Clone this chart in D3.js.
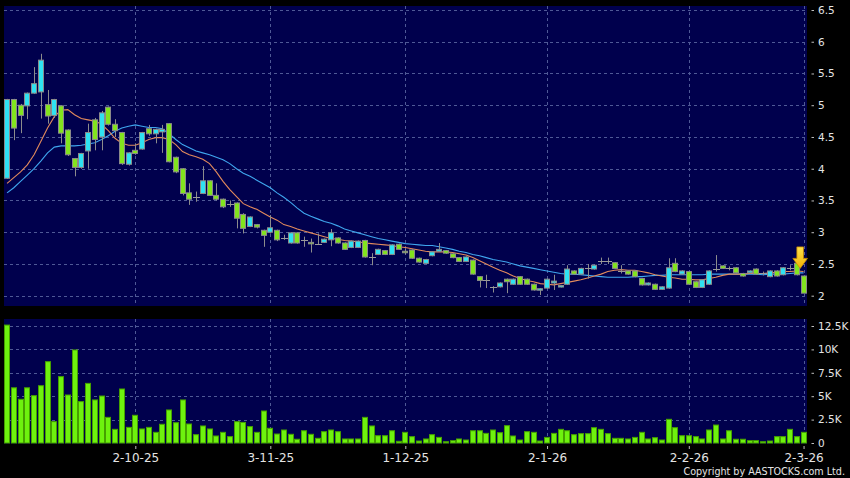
<!DOCTYPE html>
<html><head><meta charset="utf-8">
<script src="https://cdn.jsdelivr.net/npm/d3@7"></script>
<style>html,body{margin:0;padding:0;background:#000;}svg{display:block;}</style>
</head><body>
<svg id="chart" width="850" height="478"></svg>
<script>
// ---------- DATA ----------
const open = [3.85,5.09,5.00,4.99,5.19,5.21,5.01,4.84,4.99,4.61,
4.16,4.02,4.28,4.77,4.50,4.97,4.70,4.57,4.07,4.29,
4.31,4.63,4.55,4.58,4.71,4.18,4.00,3.62,3.56,3.61,
3.81,3.58,3.52,3.44,3.46,3.28,3.09,3.12,3.03,3.00,
3.03,2.91,2.83,2.99,2.88,2.84,2.81,2.84,2.88,2.91,
2.83,2.76,2.76,2.87,2.61,2.65,2.71,2.65,2.81,2.70,
2.72,2.59,2.51,2.63,2.70,2.71,2.66,2.60,2.54,2.56,
2.30,2.25,2.14,2.14,2.26,2.18,2.30,2.26,2.18,2.09,
2.12,2.20,2.14,2.18,2.39,2.34,2.43,2.42,2.54,2.54,
2.52,2.39,2.39,2.39,2.27,2.17,2.18,2.10,2.12,2.51,
2.34,2.38,2.22,2.13,2.18,2.42,2.47,2.43,2.44,2.35,
2.36,2.42,2.35,2.30,2.39,2.33,2.44,2.51,2.31];
const high = [5.10,5.10,5.02,5.20,5.60,5.81,5.24,5.10,5.00,4.62,
4.17,4.25,4.71,4.80,4.91,4.98,4.78,4.58,4.26,4.40,
4.58,4.69,4.63,4.69,4.72,4.19,4.01,3.77,3.64,4.04,
3.82,3.77,3.53,3.50,3.47,3.30,3.25,3.13,3.04,3.27,
3.04,2.96,3.00,3.00,2.93,2.90,2.98,2.90,3.05,2.92,
2.84,2.87,2.87,2.88,2.67,2.74,2.72,2.81,2.82,2.74,
2.73,2.60,2.58,2.70,2.83,2.72,2.67,2.61,2.62,2.57,
2.31,2.33,2.15,2.21,2.27,2.27,2.31,2.27,2.19,2.12,
2.27,2.33,2.17,2.48,2.40,2.44,2.50,2.49,2.60,2.60,
2.53,2.48,2.40,2.40,2.28,2.21,2.19,2.15,2.59,2.59,
2.40,2.39,2.23,2.26,2.40,2.64,2.48,2.46,2.45,2.36,
2.40,2.43,2.38,2.40,2.40,2.45,2.48,2.52,2.32];
const low = [3.84,4.45,4.56,4.78,5.18,4.79,4.71,4.80,4.40,4.20,
3.88,4.00,4.00,4.29,4.29,4.68,4.50,4.06,4.05,4.22,
4.30,4.52,4.40,4.25,4.10,3.93,3.58,3.43,3.48,3.60,
3.57,3.50,3.38,3.40,3.06,2.98,3.08,3.06,2.77,2.98,
2.86,2.88,2.82,2.82,2.77,2.68,2.80,2.83,2.78,2.82,
2.72,2.75,2.75,2.60,2.48,2.64,2.64,2.64,2.72,2.65,
2.58,2.52,2.50,2.62,2.69,2.66,2.59,2.53,2.53,2.33,
2.13,2.12,2.05,2.13,2.04,2.17,2.17,2.17,2.08,2.01,
2.11,2.09,2.13,2.17,2.33,2.33,2.27,2.41,2.50,2.50,
2.42,2.35,2.33,2.29,2.16,2.16,2.09,2.09,2.11,2.37,
2.33,2.17,2.12,2.12,2.17,2.38,2.42,2.40,2.35,2.30,
2.35,2.33,2.32,2.29,2.30,2.32,2.40,2.32,2.04];
const close = [5.09,4.64,4.84,5.19,5.34,5.71,4.83,5.09,4.56,4.22,
4.02,4.24,4.57,4.46,4.88,4.70,4.60,4.08,4.25,4.24,
4.57,4.55,4.62,4.62,4.11,3.95,3.61,3.52,3.56,3.81,
3.58,3.52,3.40,3.44,3.22,3.06,3.24,3.08,2.95,3.07,
2.88,2.91,2.99,2.83,2.88,2.82,2.81,2.89,2.99,2.83,
2.73,2.86,2.86,2.61,2.61,2.73,2.65,2.80,2.73,2.68,
2.59,2.53,2.57,2.69,2.73,2.67,2.60,2.54,2.61,2.34,
2.24,2.25,2.14,2.20,2.22,2.26,2.18,2.18,2.09,2.11,
2.26,2.23,2.16,2.42,2.34,2.43,2.43,2.48,2.54,2.54,
2.43,2.39,2.34,2.30,2.17,2.20,2.10,2.14,2.44,2.38,
2.39,2.18,2.13,2.25,2.39,2.42,2.43,2.43,2.36,2.31,
2.39,2.34,2.35,2.39,2.31,2.44,2.44,2.33,2.04];
// short (orange) and long (blue) moving averages as drawn
const maShort = [3.77,3.86,3.95,4.06,4.22,4.43,4.64,4.82,4.92,4.93,
4.85,4.79,4.77,4.75,4.70,4.60,4.48,4.40,4.37,4.37,
4.41,4.46,4.49,4.49,4.46,4.38,4.27,4.22,4.19,4.15,
4.08,3.95,3.80,3.67,3.56,3.45,3.40,3.36,3.30,3.24,
3.19,3.12,3.09,3.05,3.02,2.99,2.96,2.93,2.90,2.89,
2.87,2.86,2.85,2.83,2.82,2.81,2.80,2.79,2.77,2.76,
2.74,2.72,2.70,2.69,2.69,2.69,2.68,2.66,2.64,2.60,
2.55,2.50,2.45,2.40,2.36,2.31,2.27,2.24,2.22,2.19,
2.18,2.17,2.19,2.21,2.23,2.25,2.28,2.31,2.34,2.38,
2.40,2.41,2.40,2.40,2.38,2.36,2.33,2.31,2.29,2.28,
2.26,2.26,2.25,2.25,2.27,2.29,2.32,2.34,2.34,2.34,
2.35,2.35,2.35,2.36,2.37,2.38,2.38,2.39,2.38];
const maLong = [3.62,3.70,3.80,3.90,4.00,4.12,4.25,4.34,4.36,4.36,
4.36,4.37,4.39,4.41,4.46,4.52,4.59,4.64,4.67,4.69,
4.67,4.65,4.65,4.63,4.55,4.46,4.38,4.33,4.28,4.25,
4.22,4.18,4.14,4.08,4.00,3.93,3.88,3.82,3.76,3.70,
3.62,3.55,3.47,3.38,3.30,3.25,3.21,3.17,3.14,3.10,
3.05,3.02,2.99,2.96,2.93,2.90,2.88,2.86,2.84,2.82,
2.81,2.80,2.79,2.79,2.77,2.75,2.73,2.70,2.68,2.65,
2.63,2.60,2.57,2.55,2.53,2.50,2.47,2.45,2.43,2.41,
2.39,2.37,2.35,2.34,2.34,2.33,2.32,2.31,2.30,2.29,
2.29,2.29,2.29,2.30,2.30,2.31,2.32,2.32,2.33,2.33,
2.33,2.33,2.33,2.33,2.34,2.34,2.34,2.34,2.34,2.34,
2.34,2.34,2.33,2.34,2.34,2.34,2.35,2.36,2.36];
// volume in thousands
const volume = [12.6,5.9,4.67,5.9,5.06,6.12,8.69,2.28,7.09,5.13,
9.94,4.42,6.37,4.6,5.02,2.74,1.46,5.77,1.67,2.96,
1.5,1.67,1.14,2.0,3.53,2.17,4.6,2.03,0.89,1.82,
1.5,0.75,1.14,0.68,2.28,2.2,1.75,1.14,3.42,1.57,
0.96,1.39,0.93,0.4,1.31,0.93,0.5,1.21,1.39,1.21,
0.43,0.43,0.43,2.74,1.82,0.78,0.78,1.31,0.18,1.14,
0.68,0.21,0.43,0.89,0.6,0.14,0.25,0.43,0.32,1.31,
1.31,1.03,1.39,1.1,1.85,0.75,0.32,1.21,1.14,0.21,
0.6,1.03,1.46,1.31,0.89,1.0,1.0,1.64,1.46,1.0,
0.5,0.5,0.43,0.6,1.14,0.43,0.57,0.32,2.53,1.64,
0.78,0.78,0.68,0.43,1.39,1.92,0.43,1.31,0.4,0.4,
0.25,0.25,0.14,0.21,0.68,0.68,1.46,0.68,1.14];
const dateTickIndex = [19, 39, 59, 80, 101, 118];
const dateTickLabels = ["2-10-25", "3-11-25", "1-12-25", "2-1-26", "2-2-26", "2-3-26"];
const priceTicks = [2, 2.5, 3, 3.5, 4, 4.5, 5, 5.5, 6, 6.5];
const volumeTicks = [0, 2.5, 5, 7.5, 10, 12.5];
const volumeTickLabels = ["0", "2.5K", "5K", "7.5K", "10K", "12.5K"];
const markerIndex = 117.5, markerValue = 2.43;
const copyright = "Copyright by AASTOCKS.com Ltd.";

// ---------- LAYOUT ----------
const FONT = "'DejaVu Sans', Verdana, sans-serif";
const NAVY = "#00004d";
const GRID = "#4f5996";
const plotL = 4, plotR = 807;
const pTop = 6, pBot = 306, vTop = 319, vBot = 443.5;
const N = open.length;
const idx = d3.range(N);

const x = d3.scalePoint().domain(idx).range([7.05, 803.55]);
const yP = d3.scaleLinear().domain([2, 6.5]).range([295.7, 10]);
const yV = d3.scaleLinear().domain([0, 12.5]).range([443, 326]);
const xf = i => x(0) + (x(1) - x(0)) * i; // fractional index position

const svg = d3.select("#chart");
svg.append("rect").attr("width", 850).attr("height", 478).attr("fill", "#000");
svg.append("rect").attr("x", plotL).attr("y", pTop).attr("width", plotR - plotL).attr("height", pBot - pTop).attr("fill", NAVY);
svg.append("rect").attr("x", plotL).attr("y", vTop).attr("width", plotR - plotL).attr("height", vBot - vTop).attr("fill", NAVY);

const defs = svg.append("defs");
defs.append("clipPath").attr("id", "clipP").append("rect").attr("x", plotL).attr("y", pTop).attr("width", plotR - plotL).attr("height", pBot - pTop);
const grad = defs.append("linearGradient").attr("id", "arrowGrad").attr("x1", 0).attr("y1", 0).attr("x2", 0).attr("y2", 1);
grad.append("stop").attr("offset", "0%").attr("stop-color", "#ffe24c");
grad.append("stop").attr("offset", "100%").attr("stop-color", "#f2b000");

const crisp = v => Math.round(v) + 0.5;

// grid lines
const grid = svg.append("g").attr("stroke", GRID).attr("stroke-width", 1).attr("stroke-dasharray", "3,3");
grid.selectAll(".hp").data(priceTicks).join("line")
  .attr("x1", plotL).attr("x2", plotR).attr("y1", d => crisp(yP(d))).attr("y2", d => crisp(yP(d)));
grid.selectAll(".hv").data(volumeTicks.filter(d => d > 0)).join("line").attr("class", "hv")
  .attr("x1", plotL).attr("x2", plotR).attr("y1", d => crisp(yV(d))).attr("y2", d => crisp(yV(d)));
grid.selectAll(".vp").data(dateTickIndex).join("line").attr("class", "vp")
  .attr("x1", d => crisp(x(d))).attr("x2", d => crisp(x(d))).attr("y1", pTop).attr("y2", pBot);
grid.selectAll(".vv").data(dateTickIndex).join("line").attr("class", "vv")
  .attr("x1", d => crisp(x(d))).attr("x2", d => crisp(x(d))).attr("y1", vTop).attr("y2", vBot);

// moving averages
const gP = svg.append("g").attr("clip-path", "url(#clipP)");
const line = arr => d3.line().x((d, i) => x(i)).y(d => yP(d))(arr);
gP.append("path").attr("d", line(maLong)).attr("fill", "none").attr("stroke", "#3fa6ee").attr("stroke-width", 1.1);
gP.append("path").attr("d", line(maShort)).attr("fill", "none").attr("stroke", "#e28a5c").attr("stroke-width", 1.1);

// candles
const bw = 5;
const cg = gP.append("g");
cg.selectAll(".wick").data(idx).join("line")
  .attr("x1", i => crisp(x(i))).attr("x2", i => crisp(x(i)))
  .attr("y1", i => yP(high[i])).attr("y2", i => yP(low[i]))
  .attr("stroke", "#8c8c8c").attr("stroke-width", 1);
const bodies = idx.filter(i => close[i] !== open[i]);
cg.selectAll(".body").data(bodies).join("rect")
  .attr("x", i => Math.round(x(i)) - 2.5)
  .attr("y", i => yP(Math.max(open[i], close[i])))
  .attr("width", bw)
  .attr("height", i => Math.max(1.5, Math.abs(yP(open[i]) - yP(close[i]))))
  .attr("fill", i => close[i] > open[i] ? "#2fe2f2" : "#82e41e")
  .attr("stroke", "#8a8a8a").attr("stroke-width", 1);
const dojis = idx.filter(i => close[i] === open[i]);
cg.selectAll(".doji").data(dojis).join("line")
  .attr("x1", i => Math.round(x(i)) - 3).attr("x2", i => Math.round(x(i)) + 4)
  .attr("y1", i => crisp(yP(close[i]))).attr("y2", i => crisp(yP(close[i])))
  .attr("stroke", "#9a9a9a").attr("stroke-width", 1);

// marker arrow
const ax = xf(markerIndex), ay = yP(markerValue);
const arrow = d3.path();
arrow.moveTo(ax - 3.3, ay - 21.5); arrow.lineTo(ax + 3.3, ay - 21.5); arrow.lineTo(ax + 3.3, ay - 10);
arrow.lineTo(ax + 7.3, ay - 10); arrow.lineTo(ax, ay); arrow.lineTo(ax - 7.3, ay - 10);
arrow.lineTo(ax - 3.3, ay - 10); arrow.closePath();
svg.append("path").attr("d", arrow.toString()).attr("fill", "url(#arrowGrad)").attr("stroke", "#c98a00").attr("stroke-width", 0.8);

// volume bars
svg.append("g").selectAll("rect").data(idx).join("rect")
  .attr("x", i => Math.round(x(i)) - 2.5)
  .attr("y", i => yV(volume[i]))
  .attr("width", bw)
  .attr("height", i => yV(0) - yV(volume[i]))
  .attr("fill", "#6ef20e").attr("stroke", "#46a000").attr("stroke-width", 1);

// axes
function styleAxis(g, size) {
  g.select(".domain").remove();
  g.selectAll(".tick line").attr("stroke", "#bdbdbd");
  g.selectAll(".tick text").attr("fill", "#e4e4e4").style("font-family", FONT).style("font-size", size + "px");
}
svg.append("g").attr("transform", "translate(811.5,0)")
  .call(d3.axisRight(yP).tickValues(priceTicks).tickSize(2.5).tickPadding(4).tickFormat(d => String(d)))
  .call(g => styleAxis(g, 10.5));
svg.append("g").attr("transform", "translate(811.5,0)")
  .call(d3.axisRight(yV).tickValues(volumeTicks).tickSize(2.5).tickPadding(4).tickFormat((d, i) => volumeTickLabels[i]))
  .call(g => styleAxis(g, 10.5));
svg.append("g").attr("transform", "translate(0,446)")
  .call(d3.axisBottom(x).tickValues(dateTickIndex).tickSize(3).tickPadding(4.5).tickFormat((d, i) => dateTickLabels[i]))
  .call(g => styleAxis(g, 12));

svg.append("text").attr("x", 845).attr("y", 474.5).attr("text-anchor", "end")
  .attr("fill", "#e4e4e4").style("font-family", FONT).style("font-size", "9.6px").text(copyright);
</script>
</body></html>
